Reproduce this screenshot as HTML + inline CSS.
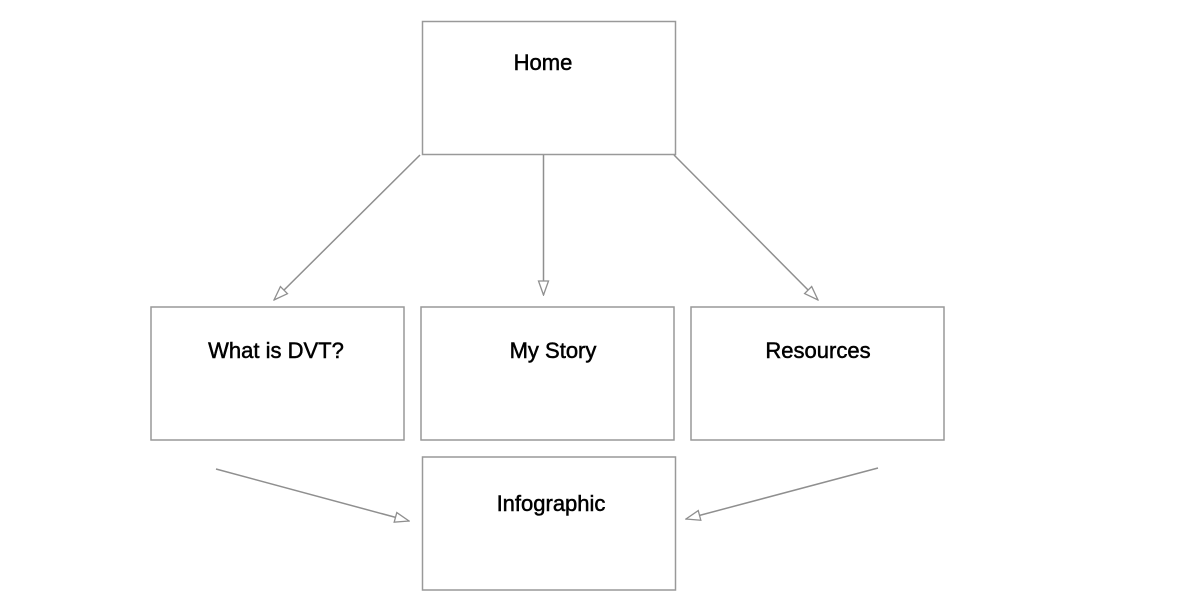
<!DOCTYPE html>
<html><head><meta charset="utf-8"><style>
html,body{margin:0;padding:0;background:#fff;width:1200px;height:600px;overflow:hidden}
text{font-family:"Liberation Sans",sans-serif;font-size:22px;fill:#000;stroke:#000;stroke-width:0.5;font-weight:normal}
</style></head><body>
<svg width="1200" height="600" viewBox="0 0 1200 600" xmlns="http://www.w3.org/2000/svg">
<defs>
<marker id="a" markerWidth="16" markerHeight="12" refX="15" refY="6" orient="auto" markerUnits="userSpaceOnUse">
<path d="M1,1 L15,6 L1,11 Z" fill="#fff" stroke="#8f8f8f" stroke-width="1.3"/>
</marker>
</defs>
<g fill="#fff" stroke="#999" stroke-width="1.5">
<rect x="422.5" y="21.5" width="253" height="133"/>
<rect x="151" y="307" width="253" height="133"/>
<rect x="421" y="307" width="253" height="133"/>
<rect x="691" y="307" width="253" height="133"/>
<rect x="422.5" y="457" width="253" height="133"/>
</g>
<g stroke="#8f8f8f" stroke-width="1.5" fill="none" marker-end="url(#a)">
<line x1="420" y1="155" x2="274" y2="300"/>
<line x1="543.5" y1="155" x2="543.5" y2="295"/>
<line x1="674" y1="155" x2="818" y2="300"/>
<line x1="216" y1="469" x2="409" y2="521"/>
<line x1="878" y1="468" x2="686" y2="519"/>
</g>
<text x="543" y="70" text-anchor="middle">Home</text>
<text x="276" y="358" text-anchor="middle">What is DVT?</text>
<text x="553" y="358" text-anchor="middle">My Story</text>
<text x="818" y="358" text-anchor="middle">Resources</text>
<text x="551" y="511" text-anchor="middle">Infographic</text>
</svg>
</body></html>
